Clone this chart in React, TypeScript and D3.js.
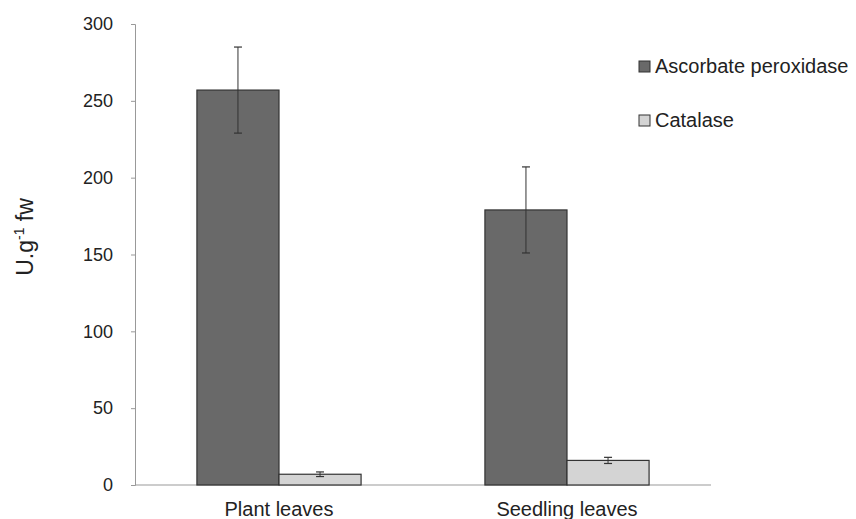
import React, { useEffect, useRef } from 'react';
import * as d3 from 'd3';

const categories = ['Plant leaves', 'Seedling leaves'];
const seriesNames = ['Ascorbate peroxidase', 'Catalase'];
const apxValues = [257, 179];
const apxErrors = [28, 28];
const catValues = [7, 16];
const catErrors = [1.5, 2];
const yTicks = [0, 50, 100, 150, 200, 250, 300];

const colors = ['#696969', '#d4d4d4'];

function App() {
  const ref = useRef<SVGSVGElement>(null);

  useEffect(() => {
    const svg = d3.select(ref.current);
    svg.selectAll('*').remove();

    const margin = { left: 135, top: 24, right: 145, bottom: 34 };
    const width = 856, height = 519;

    const x = d3.scaleBand()
      .domain(categories)
      .range([margin.left, width - margin.right])
      .paddingInner(0.43)
      .paddingOuter(0.215);

    const y = d3.scaleLinear()
      .domain([0, 300])
      .range([height - margin.bottom, margin.top]);

    const sub = d3.scaleBand()
      .domain(seriesNames)
      .range([0, x.bandwidth()]);

    const font = 'Liberation Sans, Arial, sans-serif';

    // y axis
    const yAxis = svg.append('g')
      .attr('transform', 'translate(' + margin.left + ',0)')
      .call(d3.axisLeft(y).tickValues(yTicks).tickSize(4).tickPadding(18));
    yAxis.select('.domain').attr('stroke', '#999');
    yAxis.selectAll('.tick line').attr('stroke', '#999');
    yAxis.selectAll('.tick text')
      .attr('font-family', font)
      .attr('font-size', 18)
      .attr('fill', '#222');

    // x axis line
    svg.append('line')
      .attr('x1', margin.left)
      .attr('x2', width - margin.right)
      .attr('y1', y(0))
      .attr('y2', y(0))
      .attr('stroke', '#999');

    const series = [
      { name: seriesNames[0], values: apxValues, errors: apxErrors, color: colors[0] },
      { name: seriesNames[1], values: catValues, errors: catErrors, color: colors[1] },
    ];

    series.forEach(s => {
      const g = svg.append('g');
      g.selectAll('rect')
        .data(categories)
        .enter()
        .append('rect')
        .attr('x', (c: string) => (x(c) as number) + (sub(s.name) as number))
        .attr('y', (c: string, i: number) => y(s.values[i]))
        .attr('width', sub.bandwidth())
        .attr('height', (c: string, i: number) => y(0) - y(s.values[i]))
        .attr('fill', s.color)
        .attr('stroke', '#333')
        .attr('stroke-width', 1.2);

      // error bars
      categories.forEach((c, i) => {
        const cx = (x(c) as number) + (sub(s.name) as number) + sub.bandwidth() / 2;
        const lo = y(s.values[i] - s.errors[i]);
        const hi = y(s.values[i] + s.errors[i]);
        g.append('line').attr('x1', cx).attr('x2', cx).attr('y1', lo).attr('y2', hi)
          .attr('stroke', '#333').attr('stroke-width', 1);
        [lo, hi].forEach(yy => {
          g.append('line').attr('x1', cx - 4).attr('x2', cx + 4).attr('y1', yy).attr('y2', yy)
            .attr('stroke', '#333').attr('stroke-width', 1.2);
        });
      });
    });

    // x labels
    svg.selectAll('.xlab')
      .data(categories)
      .enter()
      .append('text')
      .attr('x', (c: string) => (x(c) as number) + x.bandwidth() / 2)
      .attr('y', y(0) + 31)
      .attr('text-anchor', 'middle')
      .attr('font-family', font)
      .attr('font-size', 20)
      .attr('fill', '#222')
      .text((c: string) => c);

    // y label
    const yl = svg.append('text')
      .attr('transform', 'translate(33,' + 237 + ') rotate(-90)')
      .attr('text-anchor', 'middle')
      .attr('font-family', font)
      .attr('font-size', 23)
      .attr('fill', '#222');
    yl.append('tspan').text('U.g');
    yl.append('tspan').attr('dy', -9).attr('font-size', 14).text('-1');
    yl.append('tspan').attr('dy', 9).text(' fw');

    // legend
    const leg = svg.append('g').attr('transform', 'translate(639,60)');
    series.forEach((s, i) => {
      const row = leg.append('g').attr('transform', 'translate(0,' + i * 54 + ')');
      row.append('rect').attr('x', 0).attr('y', 1).attr('width', 11).attr('height', 11)
        .attr('fill', s.color).attr('stroke', '#333').attr('stroke-width', 1);
      row.append('text').attr('x', 16).attr('y', 13)
        .attr('font-family', font).attr('font-size', 20).attr('fill', '#222')
        .text(s.name);
    });
  }, []);

  return (
    <svg ref={ref} width={856} height={519} style={{ display: 'block', position: 'absolute', left: 0, top: 0 }} />
  );
}

export default App;
